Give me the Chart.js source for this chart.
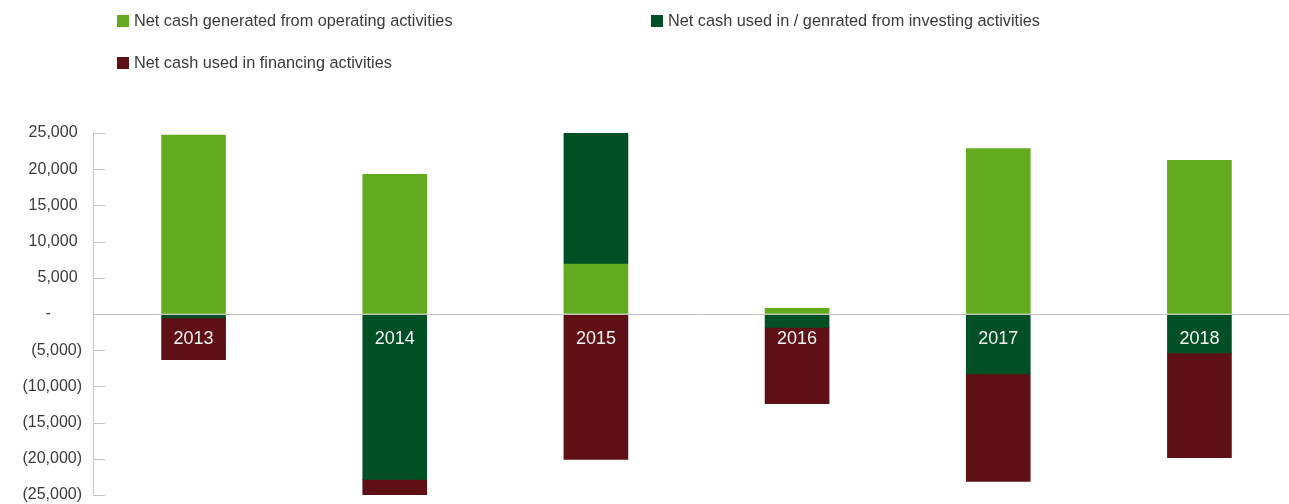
<!DOCTYPE html>
<html>
<head>
<meta charset="utf-8">
<script src="https://cdn.jsdelivr.net/npm/chart.js@4.4.1/dist/chart.umd.min.js"></script>
<style>
  html, body { margin: 0; padding: 0; background: #ffffff; overflow: hidden; }
  #wrap { position: relative; width: 1289px; height: 504px; overflow: hidden; }
  #legend { position: absolute; left: 0; top: 0; width: 1289px; height: 90px;
    font-family: "Liberation Sans", Arial, sans-serif; font-size: 16.3px; color: #3a3a3a; }
  .li { position: absolute; display: flex; align-items: center; white-space: nowrap; }
  .sw { width: 12px; height: 12px; margin-right: 5px; display: inline-block; }
  canvas { position: absolute; left: 0; top: 0; }
</style>
</head>
<body>
<div id="wrap">
  <canvas id="c" width="1300" height="504"></canvas>
  <div id="legend"></div>
</div>
<script>
const categories = ['2013', '2014', '2015', '2016', '2017', '2018'];
const seriesNames = [
  'Net cash generated from operating activities',
  'Net cash used in / genrated from investing activities',
  'Net cash used in financing activities'
];
const operating = [24700, 19300, 6900, 780, 22850, 21240];
const investing = [-550, -22850, 18250, -1850, -8280, -5380];
const financing = [-5750, -2100, -20100, -10550, -14850, -14480];
const yTicks = [-25000, -20000, -15000, -10000, -5000, 0, 5000, 10000, 15000, 20000, 25000];

const colors = ['#62ab1f', '#004f25', '#5e1014'];
const legendPos = [[117, 21], [651, 21], [117, 63]];

function fmt(v) {
  if (v === 0) return '-\u2007\u2007\u2007 ';
  const s = Math.abs(v).toLocaleString('en-US');
  return v < 0 ? '(' + s + ')' : s + ' ';
}

const overlay = {
  id: 'overlay',
  afterDatasetsDraw(chart) {
    const ctx = chart.ctx, y = chart.scales.y, x = chart.scales.x, ca = chart.chartArea;
    ctx.save();
    ctx.strokeStyle = '#c4c4c4';
    ctx.lineWidth = 1;
    y.ticks.forEach(t => {
      const py = Math.round(y.getPixelForValue(t.value)) + 0.5;
      ctx.beginPath();
      ctx.moveTo(ca.left, py);
      ctx.lineTo(ca.left + 12, py);
      ctx.stroke();
    });
    const zy = Math.round(y.getPixelForValue(0)) + 0.5;
    ctx.strokeStyle = '#c0c0c0';
    ctx.beginPath();
    ctx.moveTo(ca.left, zy);
    ctx.lineTo(chart.width, zy);
    ctx.stroke();
    ctx.fillStyle = '#f4f4f4';
    ctx.font = '18px "Liberation Sans", Arial, sans-serif';
    ctx.textAlign = 'center';
    ctx.textBaseline = 'middle';
    categories.forEach((c, i) => {
      ctx.fillText(c, x.getPixelForValue(i), zy + 25);
    });
    ctx.restore();
  }
};

const datasets = [operating, investing, financing].map((d, i) => ({
  label: seriesNames[i],
  data: d,
  backgroundColor: colors[i],
  borderWidth: 0,
  barThickness: 64
}));

const chart = new Chart(document.getElementById('c'), {
  type: 'bar',
  data: { labels: categories, datasets },
  options: {
    responsive: false,
    animation: false,
    layout: { padding: { top: 133, bottom: 9, left: 0, right: 0 } },
    plugins: { legend: { display: false }, tooltip: { enabled: false } },
    scales: {
      x: { stacked: true, display: false },
      y: {
        stacked: true,
        min: -25000, max: 25000,
        afterFit(s) { s.width = 93; s.paddingTop = 0; s.paddingBottom = 0; },
        afterBuildTicks(s) { s.ticks = yTicks.map(v => ({ value: v })); },
        grid: { drawOnChartArea: false, drawTicks: false },
        border: { display: true, color: '#c4c4c4', width: 1 },
        ticks: {
          padding: 11,
          color: '#3a3a3a',
          font: { family: '"Liberation Sans", Arial, sans-serif', size: 16 },
          callback: v => fmt(v)
        }
      }
    }
  },
  plugins: [overlay]
});

const lg = document.getElementById('legend');
chart.data.datasets.forEach((ds, i) => {
  const el = document.createElement('div');
  el.className = 'li';
  el.style.left = legendPos[i][0] + 'px';
  el.style.top = (legendPos[i][1] - 10) + 'px';
  el.innerHTML = '<span class="sw" style="background:' + ds.backgroundColor + '"></span><span>' + ds.label + '</span>';
  lg.appendChild(el);
});
</script>
</body>
</html>
